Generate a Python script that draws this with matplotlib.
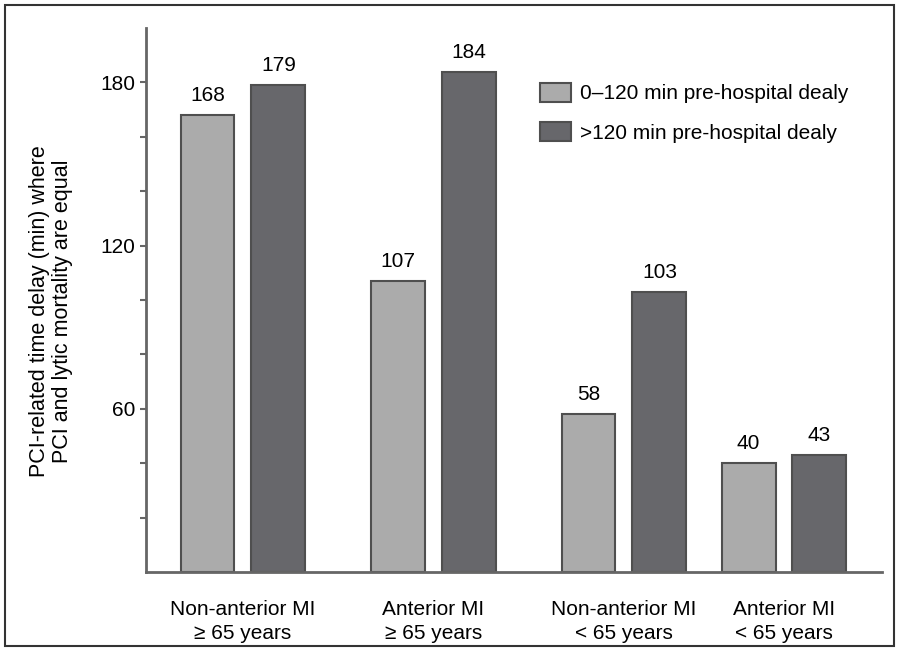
import matplotlib
matplotlib.use("Agg")
import matplotlib.pyplot as plt
from matplotlib.patches import Rectangle

# dados do grafico
categories = ["Non-anterior MI\n\u2265 65 years", "Anterior MI\n\u2265 65 years",
              "Non-anterior MI\n< 65 years", "Anterior MI\n< 65 years"]
short_delay = [168, 107, 58, 40]
long_delay = [179, 184, 103, 43]
series_names = ["0\u2013120 min pre-hospital dealy", ">120 min pre-hospital dealy"]
ylabel = "PCI-related time delay (min) where\nPCI and lytic mortality are equal"

# layout (posicoes dos grupos no eixo x; o ultimo grupo fica mais proximo)
group_x = [0, 1, 2, 2.84]
width = 0.283
offset = 0.186

FS = 15
plt.rcParams["font.family"] = ["Liberation Sans", "DejaVu Sans"]
plt.rcParams["font.size"] = FS

fig = plt.figure(figsize=(8.99, 6.51), dpi=100)
ax = fig.add_axes([0.1624, 0.1214, 0.8186, 0.8356])

light = "#ababab"
dark = "#67676b"
edge = "#4f4f4f"

b1 = ax.bar([x - offset for x in group_x], short_delay, width, color=light,
            edgecolor=edge, linewidth=1.5, label=series_names[0])
b2 = ax.bar([x + offset for x in group_x], long_delay, width, color=dark,
            edgecolor=edge, linewidth=1.5, label=series_names[1])

for bars in (b1, b2):
    for r in bars:
        ax.annotate(str(int(r.get_height())),
                    (r.get_x() + r.get_width() / 2, r.get_height()),
                    xytext=(0, 7), textcoords="offset points",
                    ha="center", va="bottom", fontsize=FS)

ax.set_xlim(-0.509, 3.354)
ax.set_ylim(0, 200)

ax.set_yticks(range(20, 200, 20))
ax.set_yticklabels([str(v) if v % 60 == 0 else "" for v in range(20, 200, 20)])
ax.tick_params(axis="y", length=4, width=1.5, color="#666666", pad=4)

ax.set_xticks(group_x)
ax.set_xticklabels(categories, linespacing=1.33)
ax.tick_params(axis="x", length=0, pad=20)

for s in ["top", "right"]:
    ax.spines[s].set_visible(False)
for s in ["left", "bottom"]:
    ax.spines[s].set_color("#666666")
    ax.spines[s].set_linewidth(2)

ax.set_ylabel(ylabel, fontsize=15.5, linespacing=1.15)
ax.yaxis.set_label_coords(-0.099, 0.48)

ax.legend(loc="upper left", bbox_to_anchor=(540 / 899, 1 - 83 / 651),
          bbox_transform=fig.transFigure, frameon=False, borderpad=0,
          borderaxespad=0, handlelength=1.5, handleheight=1.0,
          handletextpad=0.4, labelspacing=0.9, fontsize=FS)

# moldura em volta da figura
fig.patches.append(Rectangle((5 / 899, 5 / 651), 889 / 899, 641 / 651,
                             transform=fig.transFigure, fill=False,
                             edgecolor="#333333", linewidth=1.5))

plt.savefig("out.png", dpi=100)
